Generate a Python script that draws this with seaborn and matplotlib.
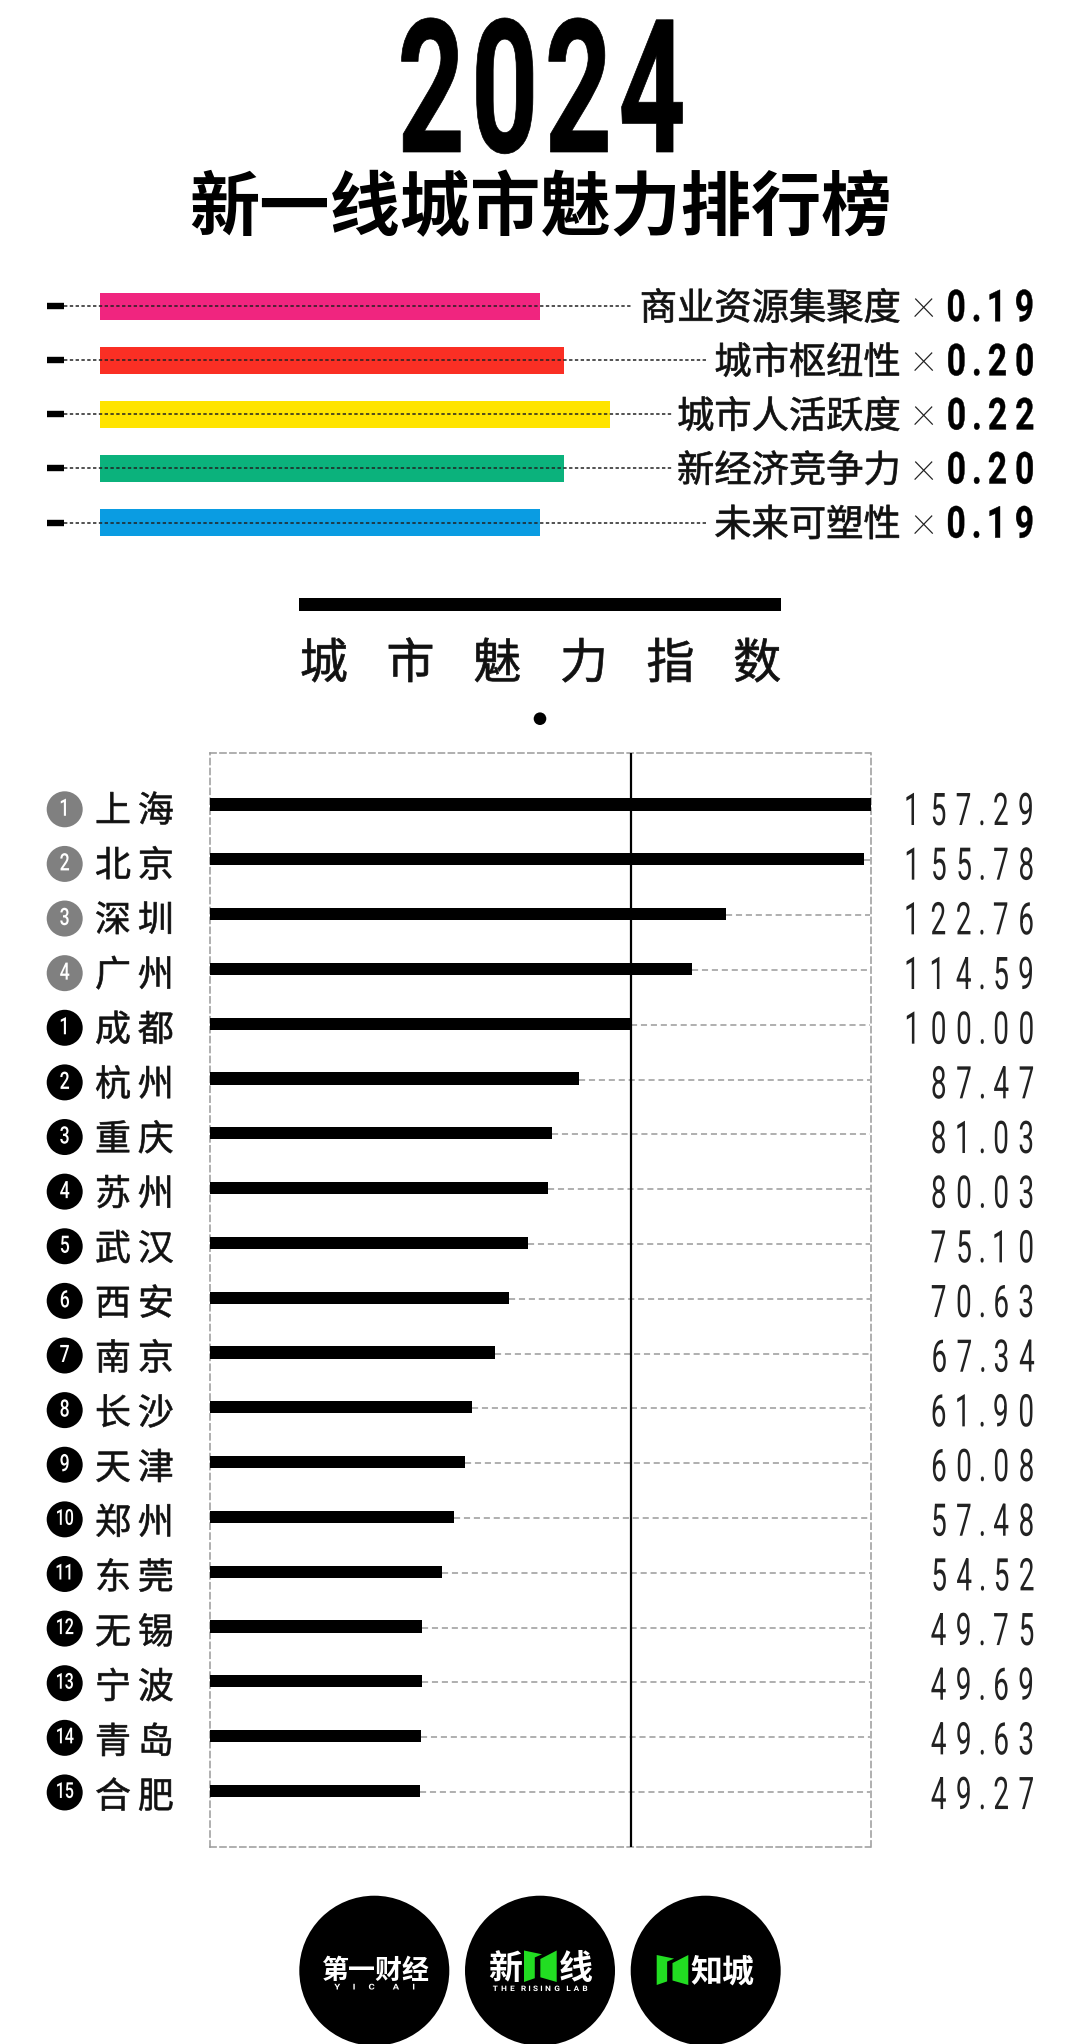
import matplotlib
matplotlib.use("Agg")
import matplotlib.pyplot as plt
import matplotlib.patheffects as pe
from matplotlib.patches import Circle, Polygon
from matplotlib.path import Path
from matplotlib.transforms import IdentityTransform
import numpy as np
import pandas as pd
import seaborn as sns

cities = ["上海","北京","深圳","广州","成都","杭州","重庆","苏州","武汉","西安","南京","长沙","天津","郑州","东莞","无锡","宁波","青岛","合肥"]
scores = [157.29,155.78,122.76,114.59,100.00,87.47,81.03,80.03,75.10,70.63,67.34,61.90,60.08,57.48,54.52,49.75,49.69,49.63,49.27]
ranks = [1,2,3,4,1,2,3,4,5,6,7,8,9,10,11,12,13,14,15]
factors = ["商业资源集聚度","城市枢纽性","城市人活跃度","新经济竞争力","未来可塑性"]
weights = [0.19,0.20,0.22,0.20,0.19]
factor_colors = ["#F0257F","#FA2F24","#FFE400","#0BB27C","#0A9CE2"]

W, H = 1080, 2044
sns.set_theme(style="white")
CJK = ["Noto Sans CJK SC", "DejaVu Sans"]
LATIN = ["Roboto", "DejaVu Sans"]
plt.rcParams["font.family"] = CJK
px = lambda p: p * 0.72


class Tracking(pe.AbstractPathEffect):
    """Draws a real text with glyphs narrowed (kg) and letter spacing changed (kp)."""
    def __init__(self, kp=1.0, kg=1.0, align="center", cell=None, stroke=0.0):
        super().__init__()
        self.kp, self.kg, self.align, self.cell, self.stroke = kp, kg, align, cell, stroke

    def draw_path(self, renderer, gc, tpath, affine, rgbFace=None):
        path = affine.transform_path(tpath)
        v, c = path.vertices.copy(), path.codes
        origin = affine.transform([[0, 0]])[0, 0]
        solid = c != Path.CLOSEPOLY
        starts = np.where(c == Path.MOVETO)[0]
        stops = np.r_[starts[1:], len(v)]
        items = []
        for s, e in zip(starts, stops):
            xs = v[s:e][solid[s:e], 0]
            items.append([xs.min(), xs.max(), s, e])
        items.sort(key=lambda it: it[0])
        groups = []
        for it in items:
            if self.cell:
                key = int(((it[0] + it[1]) / 2 - origin) // self.cell)
                if groups and groups[-1][0] == key:
                    groups[-1][3].append(it)
                else:
                    groups.append([key, None, None, [it]])
            else:
                if groups and it[0] <= groups[-1][2]:
                    groups[-1][2] = max(groups[-1][2], it[1])
                    groups[-1][3].append(it)
                else:
                    groups.append([None, it[0], it[1], [it]])
        lo, hi = v[solid, 0].min(), v[solid, 0].max()
        anchor = {"left": lo, "right": hi, "center": (lo + hi) / 2}[self.align]
        for key, g0, g1, members in groups:
            mid = origin + (key + 0.5) * self.cell if self.cell else (g0 + g1) / 2
            for _, _, s, e in members:
                v[s:e, 0] = anchor + (mid - anchor) * self.kp + (v[s:e, 0] - mid) * self.kg
        lo2, hi2 = v[solid, 0].min(), v[solid, 0].max()
        now = {"left": lo2, "right": hi2, "center": (lo2 + hi2) / 2}[self.align]
        v[:, 0] += anchor - now
        new_gc = renderer.new_gc()
        new_gc.copy_properties(gc)
        new_gc.set_linewidth(self.stroke)
        if self.stroke:
            new_gc.set_foreground(rgbFace)
        renderer.draw_path(new_gc, Path(v, c), IdentityTransform(), rgbFace)
        new_gc.restore()


fig = plt.figure(figsize=(W / 100, H / 100), dpi=100, facecolor="white")

def axes_px(x0, y0, x1, y1, **kw):
    return fig.add_axes([x0 / W, 1 - y1 / H, (x1 - x0) / W, (y1 - y0) / H], **kw)

# ---- factor bars
lax = axes_px(99.5, 279.3, 899.5, 549.55)
lax.patch.set_alpha(0)
df_f = pd.DataFrame({"factor": factors, "weight": weights})
sns.barplot(data=df_f, y="factor", x="weight", hue="factor", palette=factor_colors,
            legend=False, width=0.51, ax=lax, saturation=1, dodge=False, linewidth=0)
lax.set_xlim(0, 800 / 2320)
lax.set_ylim(4.5, -0.5)
lax.axis("off")

# ---- main bars
FX0, FX1, FY0, FY1 = 209.7, 870.5, 753.3, 1846.7
ROW0, ROWH = 804.5, 54.8
XMIN, XMAX = -1.07, 157.29
ax = axes_px(FX0, FY0, FX1, FY1)
df = pd.DataFrame({"city": cities, "score": scores})
sns.barplot(data=df, y="city", x="score", color="black", saturation=1, width=0.225, ax=ax, linewidth=0)
for b in ax.patches:
    b.set_width(b.get_width() - XMIN)
    b.set_x(XMIN)
    b.set_zorder(3)
ax.set_xlim(XMIN, XMAX)
ax.set_ylim((FY1 - ROW0) / ROWH, (FY0 - ROW0) / ROWH)
ax.hlines([i + 0.02 for i in range(len(scores))], scores, XMAX, color="#9a9a9a", lw=1.1,
          linestyles=(0, (4, 2.5)), zorder=1)
ax.axvline(100, color="black", lw=1.6, zorder=4)
ax.set_xlabel(""); ax.set_ylabel("")
ax.set_xticks([]); ax.set_yticks([])
for s in ax.spines.values():
    s.set_visible(True); s.set_color("#9a9a9a"); s.set_linewidth(1.1); s.set_linestyle((0, (4, 2.5)))

# ---- overlay in pixel coordinates
ov = fig.add_axes([0, 0, 1, 1], zorder=10)
ov.set_xlim(0, W); ov.set_ylim(H, 0); ov.axis("off"); ov.patch.set_alpha(0)

ov.text(687.5, 152, "2024", family=LATIN, weight="bold", fontsize=px(186), color="black", ha="right", va="baseline",
        path_effects=[Tracking(kp=0.69, kg=0.63, align="right", stroke=0.5)])
ov.text(540, 210, "新一线城市魅力排行榜", fontsize=px(70.3), weight="bold", color="black", ha="center", va="center")

ly = [306.2, 360.3, 414.4, 468.5, 522.6]
ends = [632, 706, 672.5, 672.5, 706]
for y, end, name, w in zip(ly, ends, factors, weights):
    ov.plot([46.7, 64], [y, y], color="black", lw=4.6, solid_capstyle="butt")
    ov.plot([64, end], [y, y], color="#222222", lw=1.1, linestyle=(0, (2.2, 1.6)))
    ov.text(900.5, y + 3, name, fontsize=px(37.3), color="#111111", ha="right", va="center",
            path_effects=[Tracking(align="right", cell=37.3, stroke=0.5)])
    ov.text(924, y - 2, "×", family=LATIN, fontsize=px(46), weight="light", color="#222222", ha="center", va="center")
    ov.text(1034.5, y + 15, f"{w:.2f}", family=LATIN, fontsize=px(44), weight="bold", color="black", ha="right", va="baseline",
            path_effects=[Tracking(kp=1.08, kg=0.76, align="right", stroke=0.3)])

ov.fill_between([299.3, 780.7], 598.3, 610.7, color="black", lw=0)
ov.text(540.5, 664.5, "城市魅力指数", fontsize=px(48), color="#111111", ha="center", va="center",
        path_effects=[Tracking(kp=1.806, align="center", cell=48, stroke=0.5)])
ov.add_patch(Circle((540, 718.7), 6.3, color="black", lw=0))

for i, (c, v, r) in enumerate(zip(cities, scores, ranks)):
    y = 809.3 + 54.62 * i
    col = "#808080" if i < 4 else "black"
    ov.add_patch(Circle((64.7, y), 18, color=col, lw=0))
    ov.text(64.7, y, str(r), family=LATIN, fontsize=px(24 if r < 10 else 22), color="white", ha="center", va="center", weight="medium",
            path_effects=[Tracking(kp=0.72, kg=0.74, align="center")])
    ov.text(134.4, 811.8 + 54.78 * i, c, fontsize=px(36), color="#111111", ha="center", va="center",
            path_effects=[Tracking(kp=1.19, align="center", cell=36, stroke=0.45)])
    ov.text(1035, 825 + 54.67 * i, f"{v:.2f}", family=LATIN, fontsize=px(45), color="#222222", ha="right", va="baseline",
            path_effects=[Tracking(kp=1.0, kg=0.62, align="right")])

# ---- logos
GREEN = "#22DD22"
LOGO_Y = 1970.7
for cx in (374.3, 540, 705.7):
    ov.add_patch(Circle((cx, LOGO_Y), 75, color="black", lw=0, clip_on=False))

def flag(x0, y0, w, h):
    ov.add_patch(Polygon([(x0, y0), (x0 + w * .55, y0 + h * .12), (x0 + w * .33, y0 + h * .22),
                          (x0 + w * .33, y0 + h * .88), (x0, y0 + h)], color=GREEN, lw=0))
    ov.add_patch(Polygon([(x0 + w * .5, y0 + h * .27), (x0 + w, y0), (x0 + w, y0 + h), (x0 + w * .5, y0 + h * .85)], color=GREEN, lw=0))

ov.text(374.7, 1971, "第一财经", fontsize=px(27), weight="bold", color="white", ha="center", va="center")
ov.text(374.7, 1987, "YICAI", family=LATIN, fontsize=px(8), weight="bold", color="white", ha="center", va="center",
        path_effects=[Tracking(kp=4.6, kg=1.2, align="center")])
ov.text(505, 1969, "新", fontsize=px(34), weight="bold", color="white", ha="center", va="center")
flag(524, 1950.5, 32.7, 31.5)
ov.text(575.5, 1969, "线", fontsize=px(34), weight="bold", color="white", ha="center", va="center")
ov.text(540, 1989, "THE RISING LAB", family=LATIN, fontsize=px(7.5), weight="bold", color="white", ha="center", va="center",
        path_effects=[Tracking(kp=1.75, kg=1.1, align="center")])
flag(656.7, 1955, 31.6, 30)
ov.text(722, 1973, "知城", fontsize=px(32), weight="bold", color="white", ha="center", va="center")

fig.savefig("out.png", dpi=100, facecolor="white")
